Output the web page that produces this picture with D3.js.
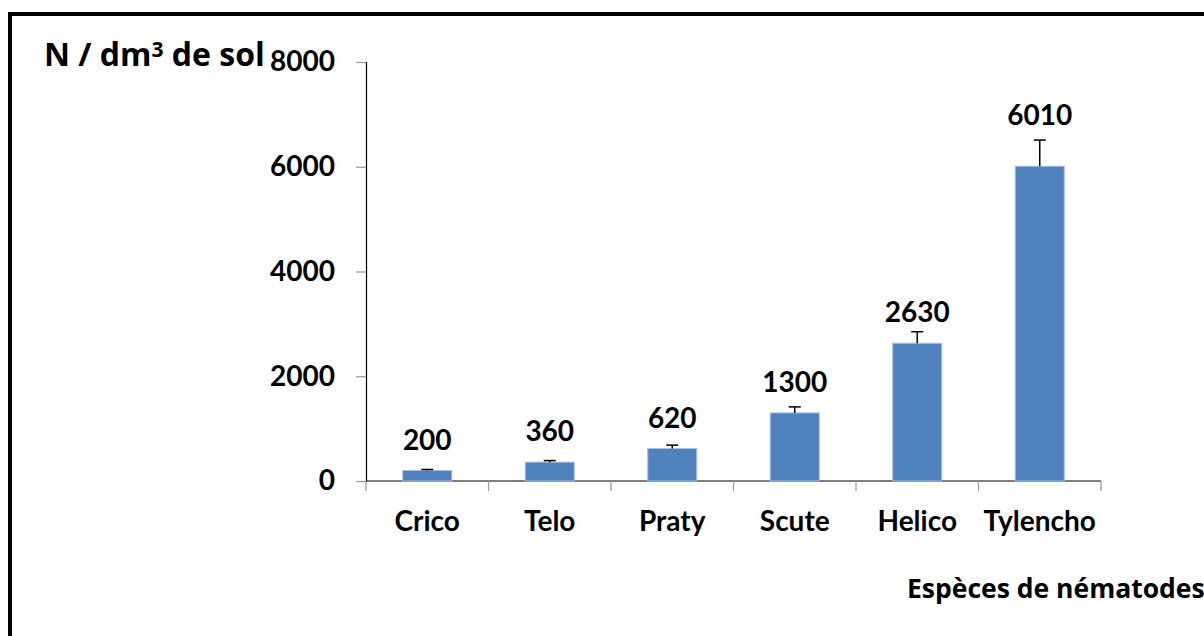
<!DOCTYPE html>
<html>
<head>
<meta charset="utf-8">
<script src="https://cdn.jsdelivr.net/npm/d3@7/dist/d3.min.js"></script>
<style>
  body { margin: 0; background: #fff; }
  text { font-family: Lato, "Open Sans", sans-serif; font-weight: bold; fill: #000; }
  text.axis-title { font-family: "Open Sans", Lato, sans-serif; }
</style>
</head>
<body>
<div id="chart"></div>
<script>
'use strict';

var species = ["Crico", "Telo", "Praty", "Scute", "Helico", "Tylencho"];
var counts = [200, 360, 620, 1300, 2630, 6010];
var errors = [20, 30, 65, 115, 220, 500];
var yTicks = [0, 2000, 4000, 6000, 8000];

var W = 1204, H = 636, fontSize = 28;
var plot = { left: 366, right: 1101, top: 62, bottom: 481 };

var svg = d3.select("#chart").append("svg")
    .attr("width", W)
    .attr("height", H);

// frame (runs off the right and bottom edge like the original)
svg.append("rect")
    .attr("x", 10).attr("y", 14)
    .attr("width", 1400).attr("height", 900)
    .attr("fill", "none")
    .attr("stroke", "#000")
    .attr("stroke-width", 4);

var x = d3.scaleBand().domain(species).range([plot.left, plot.right]).paddingInner(0).paddingOuter(0);
var y = d3.scaleLinear().domain([0, 8000]).range([plot.bottom, plot.top]);
var barW = x.bandwidth() * 0.4;

// y axis
var yAxis = svg.append("g")
    .attr("transform", "translate(" + plot.left + ",0)")
    .call(d3.axisLeft(y).tickValues(yTicks).tickSize(10).tickPadding(21).tickFormat(d3.format("d")));
yAxis.select(".domain").attr("stroke", "#000").attr("stroke-width", 1.2);
yAxis.selectAll(".tick line").attr("stroke", "#999").attr("stroke-width", 1.2);
yAxis.selectAll(".tick text")
    .style("font-size", fontSize + "px")
    .style("font-family", "Lato, sans-serif");

// x axis: ticks on the band edges
var xAxis = svg.append("g")
    .attr("transform", "translate(0," + plot.bottom + ")");
xAxis.append("line")
    .attr("x1", plot.left).attr("x2", plot.right)
    .attr("stroke", "#000").attr("stroke-width", 1.2);
var edges = species.map(function(d) { return x(d); }).concat([plot.right]);
xAxis.selectAll("line.edge")
    .data(edges)
    .enter().append("line")
    .attr("class", "edge")
    .attr("x1", function(d) { return d; })
    .attr("x2", function(d) { return d; })
    .attr("y1", 0).attr("y2", 10)
    .attr("stroke", "#999").attr("stroke-width", 1.2);
xAxis.selectAll("text")
    .data(species)
    .enter().append("text")
    .attr("x", function(d) { return x(d) + x.bandwidth() / 2; })
    .attr("y", 50)
    .attr("text-anchor", "middle")
    .style("font-size", fontSize + "px")
    .text(function(d) { return d; });

var data = species.map(function(s, i) { return { name: s, value: counts[i], err: errors[i] }; });

// bars
svg.selectAll("rect.bar")
    .data(data)
    .enter().append("rect")
    .attr("class", "bar")
    .attr("x", function(d) { return x(d.name) + (x.bandwidth() - barW) / 2; })
    .attr("y", function(d) { return y(d.value); })
    .attr("width", barW)
    .attr("height", function(d) { return y(0) - y(d.value); })
    .attr("fill", "#4F81BD")
    .attr("stroke", "#A9C0DE")
    .attr("stroke-width", 1);

// error bars
var eb = svg.selectAll("g.err")
    .data(data)
    .enter().append("g")
    .attr("class", "err");
eb.append("line")
    .attr("x1", function(d) { return x(d.name) + x.bandwidth() / 2; })
    .attr("x2", function(d) { return x(d.name) + x.bandwidth() / 2; })
    .attr("y1", function(d) { return y(d.value); })
    .attr("y2", function(d) { return y(d.value + d.err); })
    .attr("stroke", "#000").attr("stroke-width", 1.5);
eb.append("line")
    .attr("x1", function(d) { return x(d.name) + x.bandwidth() / 2 - 6; })
    .attr("x2", function(d) { return x(d.name) + x.bandwidth() / 2 + 6; })
    .attr("y1", function(d) { return y(d.value + d.err); })
    .attr("y2", function(d) { return y(d.value + d.err); })
    .attr("stroke", "#000").attr("stroke-width", 1.5);

// value labels, lifted over the error bar when they would touch it
svg.selectAll("text.val")
    .data(data)
    .enter().append("text")
    .attr("class", "val")
    .attr("x", function(d) { return x(d.name) + x.bandwidth() / 2; })
    .attr("y", function(d) {
        var base = y(d.value) - 21, cap = y(d.value + d.err);
        return cap < base + 2 ? cap - 15 : base;
    })
    .attr("text-anchor", "middle")
    .style("font-size", fontSize + "px")
    .text(function(d) { return d.value; });

// axis titles
var title = svg.append("text")
    .attr("class", "axis-title")
    .attr("x", 44).attr("y", 66)
    .style("font-size", "32px");
title.append("tspan").text("N / dm");
title.append("tspan").attr("dy", -9).style("font-size", "21px").text("3");
title.append("tspan").attr("dy", 9).text(" de sol");

svg.append("text")
    .attr("class", "axis-title")
    .attr("x", 907).attr("y", 598)
    .style("font-size", "26.5px")
    .text("Espèces de nématodes");
</script>
</body>
</html>
